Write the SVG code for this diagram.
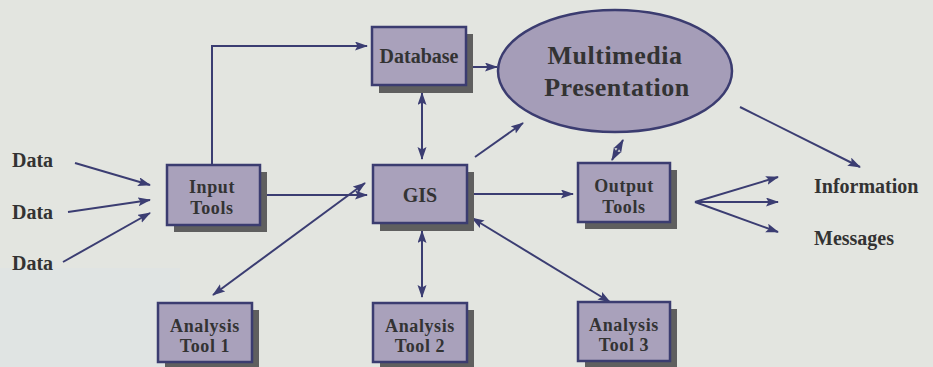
<svg xmlns="http://www.w3.org/2000/svg" width="933" height="367" viewBox="0 0 933 367">
<defs>
<marker id="ah" markerWidth="13" markerHeight="10" refX="12" refY="4.5" orient="auto-start-reverse" markerUnits="userSpaceOnUse">
<path d="M0,0 L13,4.5 L0,9 L2.5,4.5 z" fill="#3b3d72"/>
</marker>
</defs>
<style>
.bg{fill:#e3e5e0}
.box{fill:#a9a1bb;stroke:#3b3c70;stroke-width:2.5}
.sh{fill:#5f5f5f}
.t{font-family:"Liberation Serif","Times New Roman",serif;font-weight:bold;font-size:20px;fill:#333333;text-anchor:middle}
.t2{font-size:18px;letter-spacing:0.6px}
.tl{font-family:"Liberation Serif","Times New Roman",serif;font-weight:bold;font-size:20px;fill:#333333}
.big{font-size:26px;letter-spacing:0.5px}
.c{stroke:#3b3d72;stroke-width:2;fill:none}
.a{marker-end:url(#ah)}
.d{marker-start:url(#ah);marker-end:url(#ah)}
</style>
<rect class="bg" x="0" y="0" width="933" height="367"/>
<rect x="0" y="268" width="180" height="99" fill="#e0e4e3"/>

<g id="connectors">
<line class="c a" x1="75" y1="163" x2="150" y2="185"/>
<line class="c a" x1="68" y1="212" x2="150" y2="200"/>
<line class="c a" x1="63" y1="262" x2="150" y2="213"/>
<line class="c a" x1="263" y1="195" x2="367" y2="195"/>
<path class="c a" d="M212,165 V46 H367"/>
<line class="c d" x1="422" y1="93" x2="422" y2="159"/>
<line class="c d" x1="365" y1="183" x2="213" y2="295"/>
<line class="c d" x1="422" y1="231" x2="422" y2="297"/>
<line class="c a" x1="473" y1="194" x2="573" y2="194"/>
<line class="c d" x1="472" y1="218" x2="610" y2="302"/>
<line class="c a" x1="475" y1="157" x2="523" y2="123"/>
<line class="c d" x1="612" y1="160" x2="623" y2="140"/>
<line class="c a" x1="695" y1="202" x2="778" y2="177"/>
<line class="c a" x1="695" y1="202" x2="778" y2="202"/>
<line class="c a" x1="695" y1="202" x2="778" y2="232"/>
<line class="c a" x1="740" y1="107" x2="860" y2="167"/>
<line class="c a" x1="472" y1="67" x2="497" y2="67"/>
</g>

<g id="database">
<rect class="sh" x="379" y="34" width="94" height="59"/>
<rect class="box" x="372" y="27" width="94" height="58"/>
<text class="t" x="419" y="63">Database</text>
</g>

<g id="multimedia">
<ellipse cx="615" cy="71" rx="117" ry="61" fill="#a59db8" stroke="#3b3c70" stroke-width="2.5"/>
<text class="t big" x="615" y="64">Multimedia</text>
<text class="t big" x="617" y="96">Presentation</text>
</g>

<g id="input">
<rect class="sh" x="174" y="172" width="93" height="60"/>
<rect class="box" x="167" y="165" width="93" height="60"/>
<text class="t t2" x="212" y="193">Input</text>
<text class="t t2" x="212" y="214">Tools</text>
</g>

<g id="gis">
<rect class="sh" x="380" y="172" width="94" height="59"/>
<rect class="box" x="373" y="165" width="94" height="58"/>
<text class="t" x="420" y="202">GIS</text>
</g>

<g id="output">
<rect class="sh" x="585" y="170" width="92" height="59"/>
<rect class="box" x="578" y="163" width="92" height="59"/>
<text class="t t2" x="624" y="192">Output</text>
<text class="t t2" x="624" y="213">Tools</text>
</g>

<g id="analysis1">
<rect class="sh" x="165" y="310" width="94" height="59"/>
<rect class="box" x="158" y="303" width="94" height="59"/>
<text class="t t2" x="205" y="332">Analysis</text>
<text class="t t2" x="205" y="352">Tool 1</text>
</g>

<g id="analysis2">
<rect class="sh" x="380" y="310" width="94" height="59"/>
<rect class="box" x="373" y="303" width="94" height="59"/>
<text class="t t2" x="420" y="332">Analysis</text>
<text class="t t2" x="420" y="352">Tool 2</text>
</g>

<g id="analysis3">
<rect class="sh" x="585" y="309" width="92" height="59"/>
<rect class="box" x="578" y="302" width="92" height="59"/>
<text class="t t2" x="624" y="331">Analysis</text>
<text class="t t2" x="624" y="351">Tool 3</text>
</g>

<g id="labels">
<text class="tl" x="12" y="167">Data</text>
<text class="tl" x="12" y="219">Data</text>
<text class="tl" x="12" y="270">Data</text>
<text class="tl" x="814" y="193">Information</text>
<text class="tl" x="814" y="245">Messages</text>
</g>
</svg>
